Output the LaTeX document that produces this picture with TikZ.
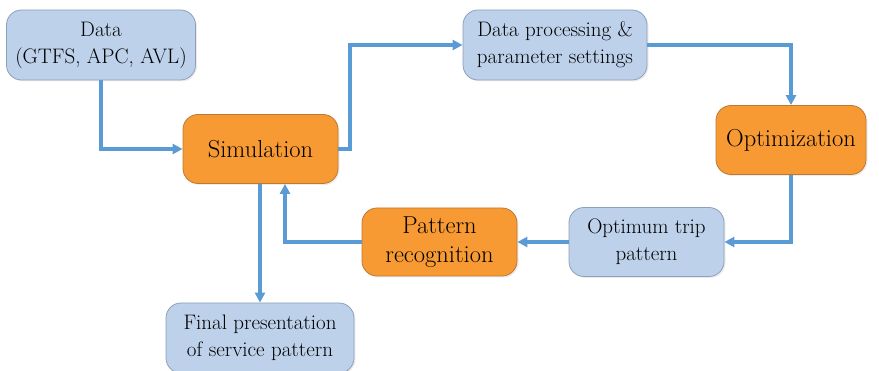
\documentclass[tikz,border=0pt]{standalone}
\usepackage{fix-cm}
\usetikzlibrary{arrows.meta,shadows}
\definecolor{bluefill}{RGB}{189,209,234}
\definecolor{blueedge}{RGB}{140,160,185}
\definecolor{orfill}{RGB}{248,154,52}
\definecolor{oredge}{RGB}{190,120,50}
\definecolor{arrowc}{RGB}{91,155,213}
\tikzset{
  bluebox/.style={draw=blueedge, fill=bluefill, line width=0.8pt, rounded corners=15pt, align=center,
    font=\fontsize{21}{27}\selectfont, inner sep=0pt, drop shadow={opacity=0.15, shadow xshift=1.5pt, shadow yshift=-1.5pt}},
  orbox/.style={draw=oredge, fill=orfill, line width=0.8pt, rounded corners=15pt, align=center,
    font=\fontsize{24.5}{29}\selectfont, inner sep=0pt, drop shadow={opacity=0.15, shadow xshift=1.5pt, shadow yshift=-1.5pt}},
  conn/.style={draw=arrowc, line width=3.2pt, -{Triangle[length=10pt,width=10pt]}},
}
\begin{document}
\begin{tikzpicture}[x=1pt,y=-1pt]
\useasboundingbox (0,0) rectangle (879,371);
\node[bluebox, minimum width=189pt, minimum height=70pt] (data) at (101,45) {Data\\(GTFS, APC, AVL)};
\node[orbox, minimum width=155pt, minimum height=69pt] (sim) at (260.5,149) {Simulation};
\node[bluebox, minimum width=184pt, minimum height=70pt] (proc) at (555,45) {Data processing \&\\parameter settings};
\node[orbox, minimum width=150pt, minimum height=69pt] (opt) at (791,140) {Optimization};
\node[bluebox, minimum width=155pt, minimum height=69pt] (trip) at (646.5,242) {Optimum trip\\pattern};
\node[orbox, minimum width=155pt, minimum height=68pt] (pat) at (439.5,242) {Pattern\\recognition};
\node[bluebox, minimum width=188pt, minimum height=70pt] (fin) at (260,338) {Final presentation\\of service pattern};
\draw[conn] (data.south) |- (sim.west);
\draw[conn] (sim.east) -- (350,149) |- (proc.west);
\draw[conn] (proc.east) -| (opt.north);
\draw[conn] (opt.south) |- (trip.east);
\draw[conn] (trip.west) -- (pat.east);
\draw[conn] (pat.west) -| (sim.south -| 285,0);
\draw[conn] (sim.south -| fin.north) -- (fin.north);
\end{tikzpicture}
\end{document}
